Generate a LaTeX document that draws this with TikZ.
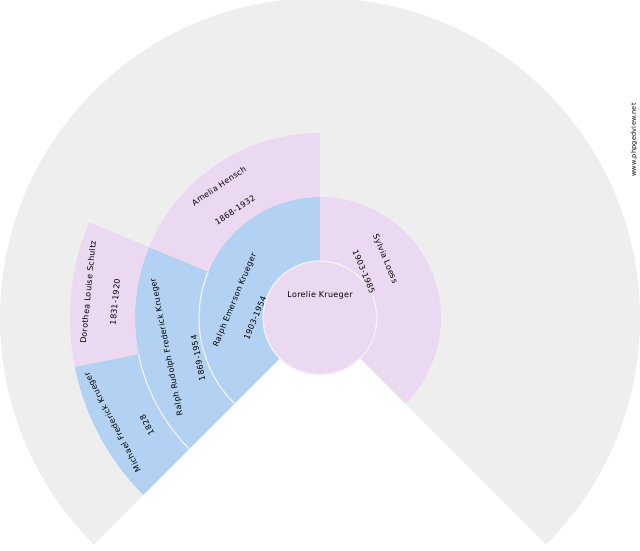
\documentclass[tikz,border=0pt]{standalone}
\usepackage{fontspec}
\setmainfont{DejaVu Sans}[LetterSpace=4]
\usetikzlibrary{calc}
\definecolor{bgray}{HTML}{EEEEEE}
\definecolor{mblue}{HTML}{B3D1F2}
\definecolor{fpink}{HTML}{EAD9F0}
\definecolor{sepc}{HTML}{F2F2F2}
\newcommand{\fansect}[5]{\fill[#5] ($(C)+(#1:#3)$) arc[start angle=#1,end angle=#2,radius=#3] -- ($(C)+(#2:#4)$) arc[start angle=#2,end angle=#1,radius=#4] -- cycle;}
\begin{document}
\begin{tikzpicture}[x=1pt,y=1pt,
  lbl/.style={font=\fontsize{8}{9}\selectfont, inner sep=0pt, text=black},
  sep/.style={draw=sepc, line width=1.2pt}]
\useasboundingbox (0,0) rectangle (640,-550);
\fill[white] (0,0) rectangle (640,-550);
\coordinate (C) at (320,-318);
\fill[bgray] (C) -- ($(C)+(225:320)$) arc[start angle=225,end angle=-45,radius=320] -- cycle;
\fansect{90}{225}{57}{121}{mblue}
\fansect{-45}{90}{57}{121}{fpink}
\fansect{157.5}{225}{121}{185}{mblue}
\fansect{90}{157.5}{121}{185}{fpink}
\fansect{191.25}{225}{185}{250}{mblue}
\fansect{157.5}{191.25}{185}{250}{fpink}
\fill[fpink] (C) circle[radius=56];
\draw[sep] (C) circle[radius=57];
\draw[sep] ($(C)+(225:121)$) arc[start angle=225,end angle=157.5,radius=121];
\draw[sep] ($(C)+(225:185)$) arc[start angle=225,end angle=191.25,radius=185];
\node[lbl] (p0) at (320,-295) {Lorelie Krueger};
\node[lbl, rotate=67.5] (p1n) at (235,-300) {Ralph Emerson Krueger};
\node[lbl, rotate=67.5] (p1d) at (255,-318) {1903-1954};
\node[lbl, rotate=-67.5] (p2n) at (385,-259) {Sylvia Loess};
\node[lbl, rotate=-67.5] (p2d) at (364,-272) {1903-1985};
\node[lbl, rotate=101.25] (p3n) at (167,-347) {Ralph Rudolph Frederick Krueger};
\node[lbl, rotate=101.25] (p3d) at (198,-358) {1869-1954};
\node[lbl, rotate=33.75] (p4n) at (219,-186) {Amelia Hensch};
\node[lbl, rotate=33.75] (p4d) at (235,-210) {1868-1932};
\node[lbl, rotate=118.1] (p5n) at (113,-422) {Michael Frederick Krueger};
\node[lbl, rotate=118.1] (p5d) at (147,-425) {1828};
\node[lbl, rotate=84.4] (p6n) at (88,-292) {Dorothea Louise Schultz};
\node[lbl, rotate=84.4] (p6d) at (115,-302) {1831-1920};
\node[lbl, rotate=90, font=\fontsize{6.5}{7}\selectfont] (wm) at (634,-140) {www.phpgedview.net};
\end{tikzpicture}
\end{document}
